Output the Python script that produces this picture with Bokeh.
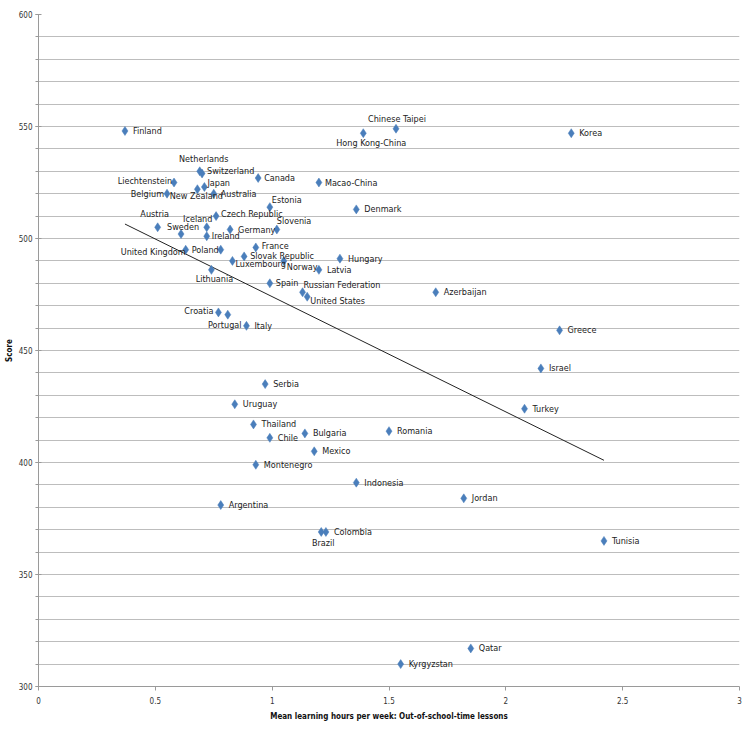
import numpy as np
from bokeh.plotting import figure
from bokeh.models import ColumnDataSource, Range1d, SingleIntervalTicker
from bokeh.core.properties import value
from bokeh.embed import file_html
from bokeh.resources import INLINE

# ---------------- data ----------------
countries = [
    "Finland", "Chinese Taipei", "Hong Kong-China", "Korea", "Netherlands", "Switzerland",
    "Liechtenstein", "Japan", "New Zealand", "Belgium", "Australia", "Canada", "Macao-China",
    "Estonia", "Denmark", "Czech Republic", "Austria", "Iceland", "Sweden", "Ireland",
    "Germany", "Slovenia", "United Kingdom", "Poland", "France", "Slovak Republic",
    "Luxembourg", "Norway", "Latvia", "Hungary", "Lithuania", "Spain", "Russian Federation",
    "United States", "Azerbaijan", "Croatia", "Portugal", "Italy", "Greece", "Israel",
    "Turkey", "Serbia", "Uruguay", "Thailand", "Chile", "Bulgaria", "Romania", "Mexico",
    "Montenegro", "Indonesia", "Argentina", "Brazil", "Colombia", "Jordan", "Tunisia",
    "Qatar", "Kyrgyzstan",
]
hours = [
    0.37, 1.53, 1.39, 2.28, 0.69, 0.70,
    0.58, 0.71, 0.68, 0.55, 0.75, 0.94, 1.20,
    0.99, 1.36, 0.76, 0.51, 0.72, 0.61, 0.72,
    0.82, 1.02, 0.63, 0.78, 0.93, 0.88,
    0.83, 1.05, 1.20, 1.29, 0.74, 0.99, 1.13,
    1.15, 1.70, 0.77, 0.81, 0.89, 2.23, 2.15,
    2.08, 0.97, 0.84, 0.92, 0.99, 1.14, 1.50, 1.18,
    0.93, 1.36, 0.78, 1.21, 1.23, 1.82, 2.42,
    1.85, 1.55,
]
scores = [
    548, 549, 547, 547, 530, 529,
    525, 523, 522, 520, 520, 527, 525,
    514, 513, 510, 505, 505, 502, 501,
    504, 504, 495, 495, 496, 492,
    490, 490, 486, 491, 486, 480, 476,
    474, 476, 467, 466, 461, 459, 442,
    424, 435, 426, 417, 411, 413, 414, 405,
    399, 391, 381, 369, 369, 384, 365,
    317, 310,
]
x_ticks = [0, 0.5, 1, 1.5, 2, 2.5, 3]
x_tick_labels = ["0", "0.5", "1", "1.5", "2", "2.5", "3"]
y_ticks = [300, 350, 400, 450, 500, 550, 600]

# ---------------- label placement (style) ----------------
# name: (align, dx px, dy px)  (screen px, +dy = down)
label_style = {
    "Chinese Taipei": ("center", 1, -10),
    "Hong Kong-China": ("center", 8, 10),
    "Netherlands": ("center", 4, -12),
    "Switzerland": ("left", 5, -3),
    "Liechtenstein": ("right", -2, -2),
    "Japan": ("left", 3, -4),
    "New Zealand": ("center", -1, 7),
    "Belgium": ("right", -3, 0),
    "Australia": ("left", 7, 0),
    "Canada": ("left", 6, 0),
    "Macao-China": ("left", 6, 0),
    "Estonia": ("left", 2, -7),
    "Czech Republic": ("left", 5, -2),
    "Austria": ("center", -3, -13),
    "Iceland": ("center", -9, -8),
    "Sweden": ("center", 2, -7),
    "Ireland": ("left", 5, 0),
    "Slovenia": ("left", 0, -9),
    "United Kingdom": ("right", 0, 2),
    "Poland": ("right", -2, 0),
    "France": ("left", 6, -1),
    "Slovak Republic": ("left", 6, 0),
    "Luxembourg": ("left", 3, 3),
    "Norway": ("left", 3, 6),
    "Lithuania": ("center", 3, 9),
    "Spain": ("left", 6, 0),
    "Russian Federation": ("left", 1, -7),
    "United States": ("left", 3, 4),
    "Croatia": ("right", -5, -1),
    "Portugal": ("center", -3, 10),
    "Brazil": ("center", 2, 11),
}
DEFAULT = ("left", 8, 0)

FONT = "'Liberation Sans Narrow', 'DejaVu Sans Condensed', sans-serif"

p = figure(
    width=745, height=728,
    x_range=Range1d(0, 3), y_range=Range1d(300, 600),
    output_backend="svg", toolbar_location=None,
    min_border_left=38, min_border_right=6, min_border_top=14, min_border_bottom=42,
)
p.outline_line_color = None
p.background_fill_color = "white"
p.border_fill_color = "white"

# grid
p.xgrid.grid_line_color = None
p.ygrid.ticker = SingleIntervalTicker(interval=10)
p.ygrid.grid_line_color = "#bdbdbd"
p.ygrid.grid_line_width = 1

# axes
p.xaxis.ticker = x_ticks
p.yaxis.ticker = SingleIntervalTicker(interval=50, num_minor_ticks=5)
p.yaxis.major_label_overrides = {v: str(v) for v in y_ticks}
p.xaxis.major_label_overrides = dict(zip(x_ticks, x_tick_labels))
for ax in (p.xaxis[0], p.yaxis[0]):
    ax.axis_line_color = "#9a9a9a"
    ax.major_tick_line_color = "#9a9a9a"
    ax.minor_tick_line_color = "#9a9a9a"
    ax.major_label_text_font = FONT
    ax.major_label_text_font_size = "8px"
    ax.major_label_text_color = "#333333"
    ax.axis_label_text_font = FONT
    ax.axis_label_text_font_size = "8px"
    ax.axis_label_text_font_style = "bold"
    ax.axis_label_text_color = "#111111"
p.xaxis.major_tick_out = 4
p.xaxis.major_tick_in = 0
p.xaxis.minor_tick_out = 0
p.xaxis.minor_tick_in = 0
p.xaxis.major_label_standoff = 6
p.xaxis.axis_label_standoff = 5
p.yaxis.major_tick_out = 3
p.yaxis.major_tick_in = 3
p.yaxis.minor_tick_out = 3
p.yaxis.minor_tick_in = 0
p.yaxis.major_label_standoff = 3
p.yaxis.axis_label_standoff = 2
p.xaxis.axis_label = "Mean learning hours per week: Out-of-school-time lessons"
p.yaxis.axis_label = "Score"

# trend line (least squares fit over data range)
hx = np.array(hours)
sy = np.array(scores)
slope, intercept = np.polyfit(hx, sy, 1)
tx = np.array([hx.min(), hx.max()])
p.line(tx, slope * tx + intercept, line_color="#222222", line_width=1)

# markers
src = ColumnDataSource(dict(x=hours, y=scores, name=countries))
p.scatter("x", "y", source=src, marker="diamond", size=9,
          fill_color="#4a7ebb", line_color="#4a7ebb", line_width=0.5)

# labels grouped by alignment
groups = {}
for c, xv, yv in zip(countries, hours, scores):
    al, dx, dy = label_style.get(c, DEFAULT)
    g = groups.setdefault(al, dict(x=[], y=[], t=[], dx=[], dy=[]))
    g["x"].append(xv); g["y"].append(yv); g["t"].append(c)
    g["dx"].append(dx); g["dy"].append(dy)
for al, g in groups.items():
    s = ColumnDataSource(g)
    p.text("x", "y", text="t", x_offset="dx", y_offset="dy", source=s,
           text_align=al, text_baseline="middle",
           text_font=value(FONT), text_font_size="9px", text_color="#222222")

open("out.html", "w").write(file_html(p, INLINE))
